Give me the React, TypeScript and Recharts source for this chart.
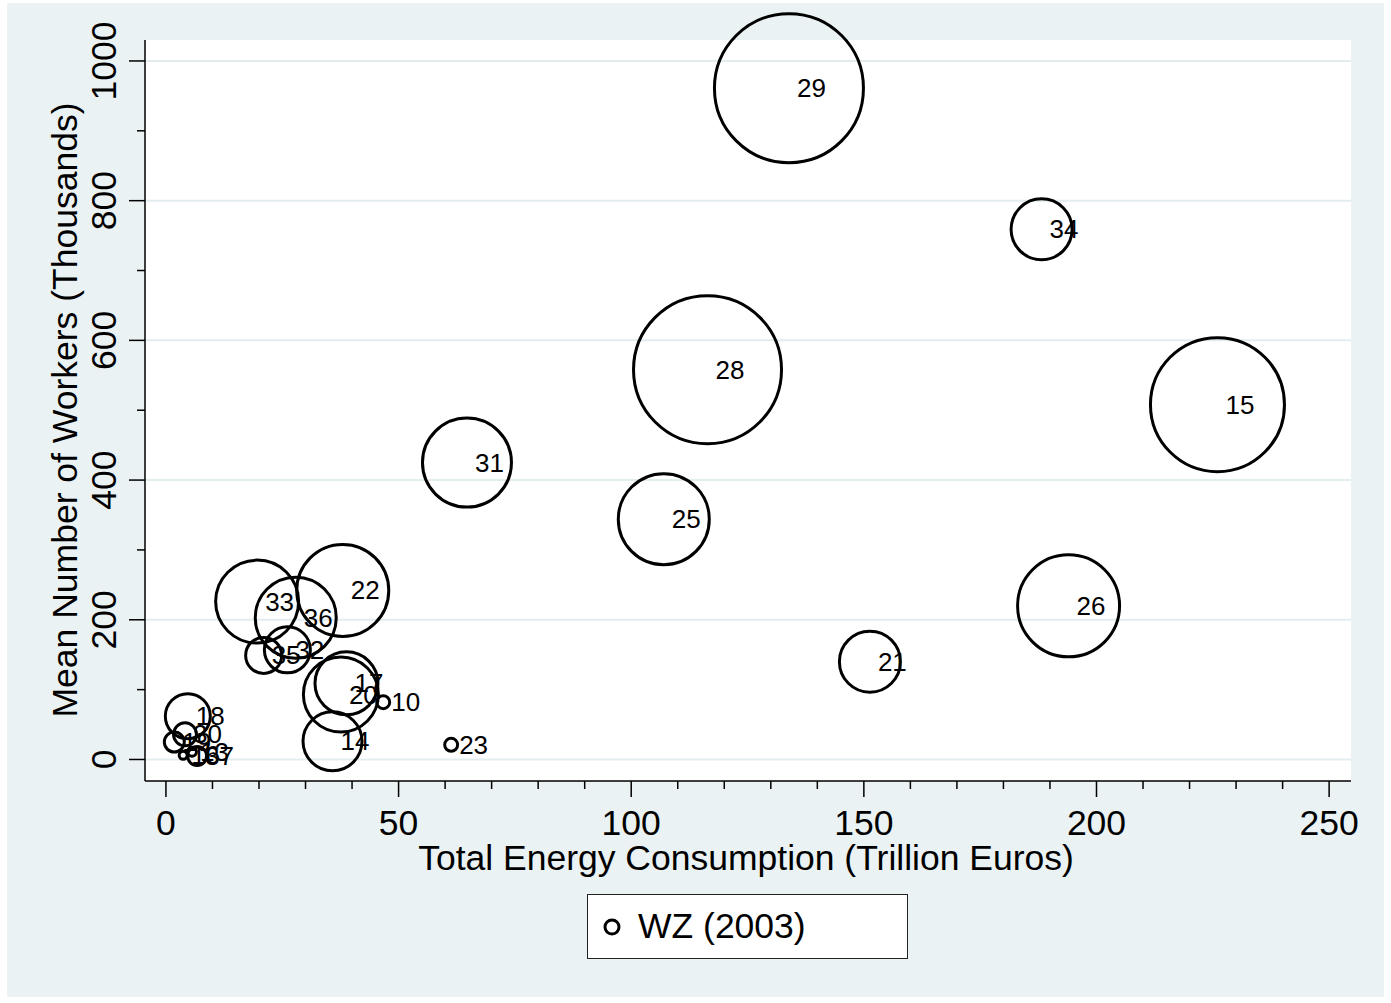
import React from 'react';
import { ScatterChart, Scatter, XAxis, YAxis, ZAxis, CartesianGrid, Legend } from 'recharts';

// WZ 2003 industry codes with energy use, workforce and bubble weight
const industryCodes = ['29', '34', '28', '15', '31', '25', '26', '21', '22', '33', '36', '32', '35', '17', '20', '10', '14', '23', '18', '19', '30', '16', '37', '13'];
const energyConsumption = [133.9, 188.2, 116.4, 226, 64.7, 107, 194, 151.3, 38, 19.6, 27.9, 26.1, 21, 38.8, 37.6, 46.7, 35.8, 61.3, 4.7, 1.8, 4.1, 3.7, 6.7, 5.6];
const meanWorkers = [961, 759, 558, 508, 425, 344, 220, 140, 242, 226, 203, 157, 149, 109, 93, 82, 26, 21, 62, 25, 36, 6, 5, 11];
const bubbleWeight = [5550, 930, 5476, 4489, 1980, 2070, 2601, 930, 2116, 1722, 1640, 529, 324, 992, 1406, 42, 870, 42, 506, 100, 132, 16, 90, 20];

const xTicks = [0, 10, 20, 30, 40, 50, 60, 70, 80, 90, 100, 110, 120, 130, 140, 150, 160, 170, 180, 190, 200, 210, 220, 230, 240, 250];
const yTicks = [0, 100, 200, 300, 400, 500, 600, 700, 800, 900, 1000];
const yGridLines = [0, 200, 400, 600, 800, 1000];

const data = industryCodes.map((code, i) => ({
  code,
  x: energyConsumption[i],
  y: meanWorkers[i],
  z: bubbleWeight[i],
}));

const FONT = '"Liberation Sans", Arial, Helvetica, sans-serif';
const BG = '#EAF2F3';
const TEXT_SIZE = 35.5;

const Bubble = (props: any) => {
  const { cx, cy, size, payload } = props;
  const r = Math.sqrt((size || 0) / Math.PI);
  return (
    <g>
      <circle cx={cx} cy={cy} r={r} fill="none" stroke="#000" strokeWidth={3} />
      <text x={cx + 8} y={cy + 9} fontSize={26} fontFamily={FONT} fill="#000">
        {payload.code}
      </text>
    </g>
  );
};

const XTick = (props: any) => {
  const { x, y, payload } = props;
  const major = payload.value % 50 === 0;
  return (
    <g>
      <line x1={x} x2={x} y1={y} y2={y + (major ? 16 : 8)} stroke="#000" strokeWidth={1.5} />
      {major && (
        <text x={x} y={y + 54} textAnchor="middle" fontSize={TEXT_SIZE} fontFamily={FONT} fill="#000">
          {payload.value}
        </text>
      )}
    </g>
  );
};

const YTick = (props: any) => {
  const { x, y, payload } = props;
  const major = payload.value % 200 === 0;
  return (
    <g>
      <line x1={x} x2={x - (major ? 16 : 8)} y1={y} y2={y} stroke="#000" strokeWidth={1.5} />
      {major && (
        <text
          x={x - 29}
          y={y}
          transform={`rotate(-90, ${x - 29}, ${y})`}
          textAnchor="middle"
          fontSize={TEXT_SIZE}
          fontFamily={FONT}
          fill="#000"
        >
          {payload.value}
        </text>
      )}
    </g>
  );
};

const renderLegend = () => (
  <div
    style={{
      width: 321,
      height: 65,
      boxSizing: 'border-box',
      border: '1.5px solid #222',
      background: '#fff',
      display: 'flex',
      alignItems: 'center',
      fontFamily: FONT,
      fontSize: TEXT_SIZE,
      color: '#000',
    }}
  >
    <svg width={50} height={30} style={{ marginLeft: 12 }}>
      <circle cx={12} cy={15} r={7} fill="none" stroke="#000" strokeWidth={3} />
    </svg>
    <span style={{ marginLeft: -12 }}>WZ (2003)</span>
  </div>
);

export default function App() {
  return (
    <div style={{ position: 'absolute', left: 0, top: 0, width: 1391, height: 1003, background: '#fff' }}>
      <div style={{ position: 'absolute', left: 7, top: 3, width: 1377, height: 994, background: BG }} />
      <div style={{ position: 'absolute', left: 0, top: 0 }}>
        <ScatterChart width={1391} height={1003} margin={{ top: 40, right: 40, bottom: 0, left: 0 }}>
          <CartesianGrid
            fill="#fff"
            vertical={false}
            horizontalValues={yGridLines}
            stroke="#E3EDEF"
            strokeWidth={2}
          />
          <XAxis
            type="number"
            dataKey="x"
            domain={[-4.5, 254.7]}
            ticks={xTicks}
            interval={0}
            tickLine={false}
            tickSize={0}
            tickMargin={0}
            height={222}
            axisLine={{ stroke: '#000', strokeWidth: 1.5 }}
            tick={<XTick />}
            label={{
              content: () => (
                <text x={746} y={870} textAnchor="middle" fontSize={TEXT_SIZE} fontFamily={FONT} fill="#000">
                  Total Energy Consumption (Trillion Euros)
                </text>
              ),
            }}
          />
          <YAxis
            type="number"
            dataKey="y"
            domain={[-30.8, 1030]}
            ticks={yTicks}
            interval={0}
            tickLine={false}
            tickSize={0}
            tickMargin={0}
            width={145}
            axisLine={{ stroke: '#000', strokeWidth: 1.5 }}
            tick={<YTick />}
            label={{
              content: () => (
                <text
                  x={77}
                  y={410}
                  transform="rotate(-90, 77, 410)"
                  textAnchor="middle"
                  fontSize={TEXT_SIZE}
                  fontFamily={FONT}
                  fill="#000"
                >
                  Mean Number of Workers (Thousands)
                </text>
              ),
            }}
          />
          <ZAxis type="number" dataKey="z" domain={[0, 6000]} range={[0, Math.PI * 6000]} />
          <Scatter name="WZ (2003)" data={data} shape={<Bubble />} isAnimationActive={false} />
          <Legend
            layout="horizontal"
            verticalAlign="middle"
            align="center"
            content={renderLegend}
            wrapperStyle={{ position: 'absolute', left: 587, top: 894, width: 321, height: 65 }}
          />
        </ScatterChart>
      </div>
    </div>
  );
}
